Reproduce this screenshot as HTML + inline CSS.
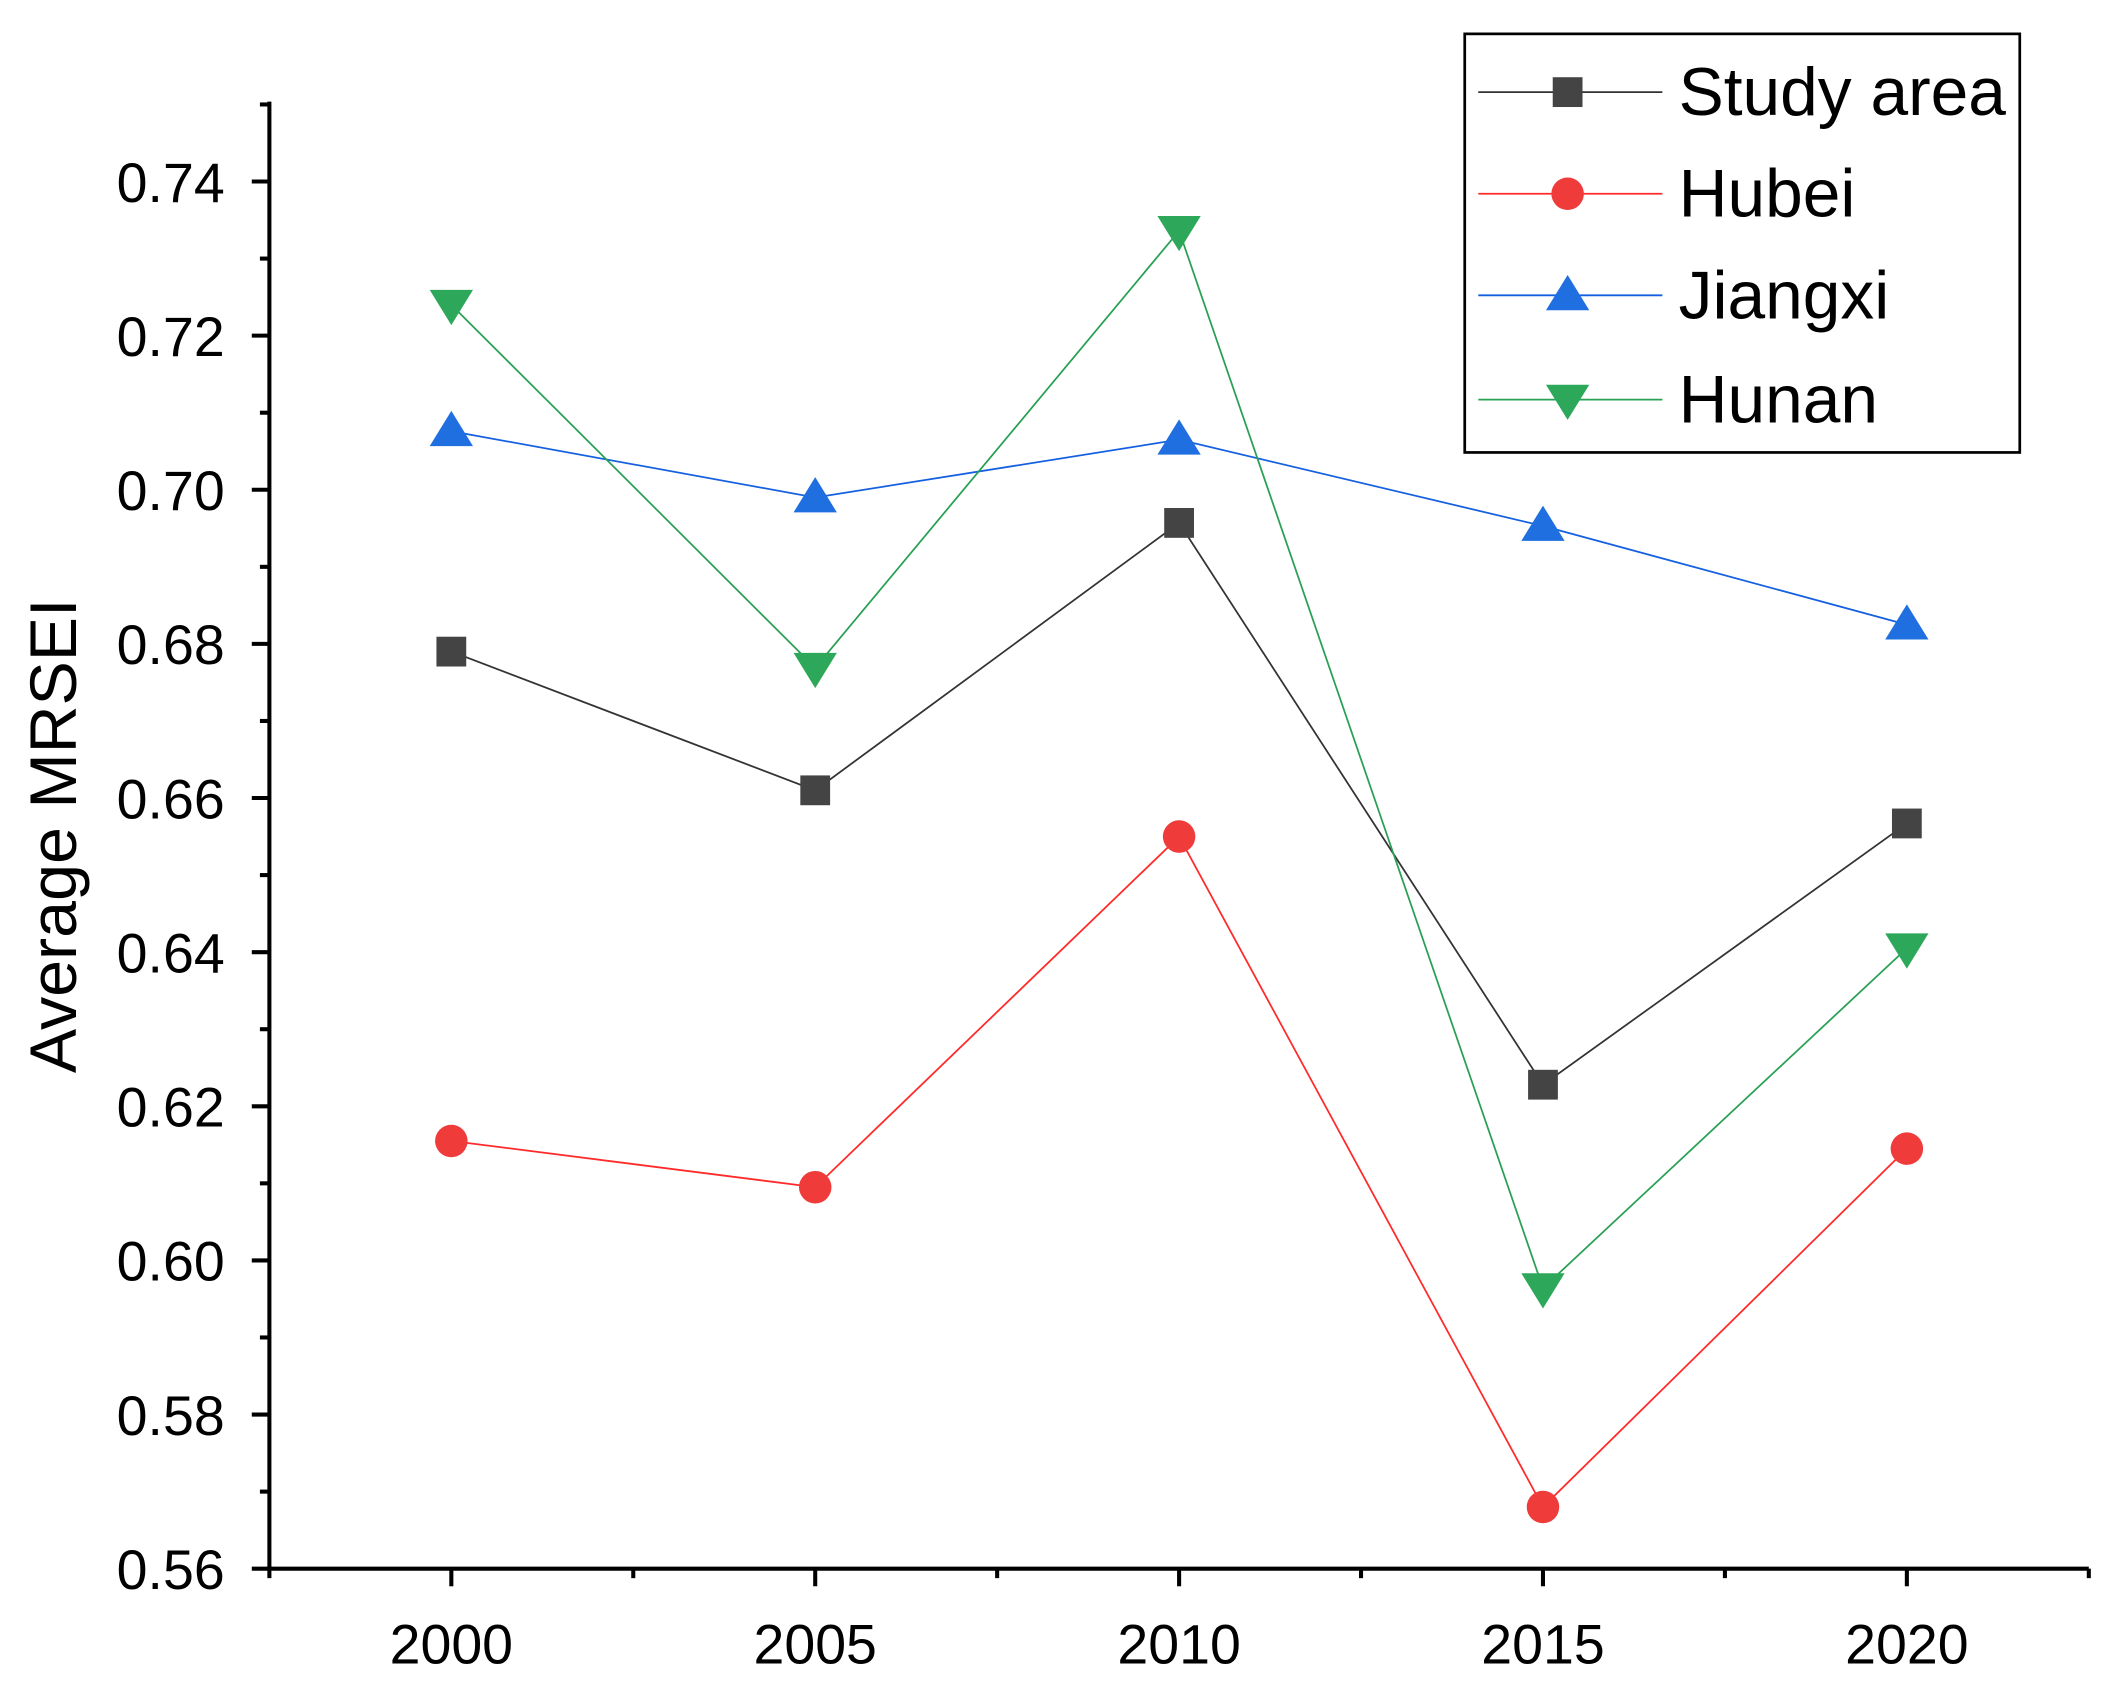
<!DOCTYPE html>
<html><head><meta charset="utf-8"><style>
html,body{margin:0;padding:0;background:#fff}
svg{display:block}
text{font-family:"Liberation Sans","DejaVu Sans",sans-serif;fill:#000}
</style></head><body>
<svg id="chart" width="2124" height="1696" viewBox="0 0 1569 1252" preserveAspectRatio="none" xmlns="http://www.w3.org/2000/svg">
<g id="axes"></g>
<g id="series"></g>
<g id="legend"></g>
</svg>
<script>
const years = [2000, 2005, 2010, 2015, 2020];
const studyArea = [0.679, 0.661, 0.6957, 0.6228, 0.6567];
const hubei = [0.6155, 0.6095, 0.655, 0.568, 0.6145];
const jiangxi = [0.7076, 0.699, 0.7065, 0.6953, 0.6825];
const hunan = [0.724, 0.6769, 0.7336, 0.5964, 0.6405];
const yTicks = [0.56, 0.58, 0.60, 0.62, 0.64, 0.66, 0.68, 0.70, 0.72, 0.74];
const seriesNames = ["Study area", "Hubei", "Jiangxi", "Hunan"];

const NS = "http://www.w3.org/2000/svg";
const X0 = 199, X1 = 1543, Y0 = 1158, YT = 75;
const xMin = 1997.5, xMax = 2022.5, yMin = 0.56, yMax = 0.74;
const xs = v => X0 + (v - xMin) / (xMax - xMin) * (X1 - X0);
const ys = v => Y0 - (v - yMin) / (yMax - yMin) * (Y0 - 134);
function el(tag, attrs, parent, txt) {
  const e = document.createElementNS(NS, tag);
  for (const k in attrs) e.setAttribute(k, attrs[k]);
  if (txt !== undefined) e.textContent = txt;
  parent.appendChild(e);
  return e;
}
const axes = document.getElementById('axes');
let a = el('line', {x1: X0, y1: Y0, x2: X1, y2: Y0, stroke: '#000', 'stroke-width': 3}, axes);
 
a = el('line', {x1: X0, y1: Y0 + 1.5, x2: X0, y2: YT, stroke: '#000', 'stroke-width': 3}, axes);
 
yTicks.forEach((t, i) => {
  const y = ys(t);
  el('line', {x1: X0 - 13, y1: y, x2: X0, y2: y, stroke: '#000', 'stroke-width': 3}, axes);
  const tx = el('text', {x: 166, y: y + 15, 'font-size': 41, 'text-anchor': 'end'}, axes, t.toFixed(2));
   
  const m = t + 0.01;
  if (ys(m) > YT) el('line', {x1: X0 - 7, y1: ys(m), x2: X0, y2: ys(m), stroke: '#000', 'stroke-width': 3}, axes);
});
years.forEach(yr => {
  const x = xs(yr);
  el('line', {x1: x, y1: Y0, x2: x, y2: Y0 + 13, stroke: '#000', 'stroke-width': 3}, axes);
  const tx = el('text', {x: x, y: 1228, 'font-size': 41, 'text-anchor': 'middle'}, axes, String(yr));
   
});
for (let m = 1997.5; m <= 2022.6; m += 5) {
  el('line', {x1: xs(m), y1: Y0, x2: xs(m), y2: Y0 + 7, stroke: '#000', 'stroke-width': 3}, axes);
}
const yt = el('text', {x: 0, y: 0, 'font-size': 49, 'text-anchor': 'middle', transform: 'translate(56,617) rotate(-90)'}, axes, 'Average MRSEI');
 

const defs = [
  {data: studyArea, line: '#333', fill: '#444', shape: 'square'},
  {data: hubei, line: '#ff2a2a', fill: '#f03b3b', shape: 'circle'},
  {data: jiangxi, line: '#1560e0', fill: '#1f6fe0', shape: 'up'},
  {data: hunan, line: '#2aa055', fill: '#2da85a', shape: 'down'}
];
function marker(shape, x, y, fill, parent) {
  let m;
  if (shape === 'square') m = el('rect', {x: x - 11, y: y - 11, width: 22, height: 22, fill: fill}, parent);
  else if (shape === 'circle') m = el('circle', {cx: x, cy: y, r: 12, fill: fill}, parent);
  else if (shape === 'up') m = el('polygon', {points: `${x},${y-15} ${x+16},${y+11} ${x-16},${y+11}`, fill: fill}, parent);
  else m = el('polygon', {points: `${x},${y+15} ${x+16},${y-11} ${x-16},${y-11}`, fill: fill}, parent);
  return m;
}
const sg = document.getElementById('series');
[0, 1, 2, 3].forEach(i => {
  const d = defs[i];
  const g = el('g', {}, sg);
  
  
  const pl = el('polyline', {points: d.data.map((v, j) => xs(years[j]) + ',' + ys(v)).join(' '), fill: 'none', stroke: d.line, 'stroke-width': 1.3}, g);
  
  
  d.data.forEach((v, j) => {
    const m = marker(d.shape, xs(years[j]), ys(v), d.fill, g);
    
    
  });
});
const lg = document.getElementById('legend');
const box = el('rect', {x: 1082, y: 25, width: 410, height: 309, fill: '#fff', stroke: '#000', 'stroke-width': 2}, lg);
 
const ly = [68, 143, 218, 295];
seriesNames.forEach((n, i) => {
  const d = defs[i];
  const g = el('g', {}, lg);
  
  
  el('line', {x1: 1092, y1: ly[i], x2: 1228, y2: ly[i], stroke: d.line, 'stroke-width': 1.3}, g);
  marker(d.shape, 1158, ly[i], d.fill, g);
  el('text', {x: 1240, y: ly[i] + 17, 'font-size': 50}, g, n);
});
</script>
</body></html>
